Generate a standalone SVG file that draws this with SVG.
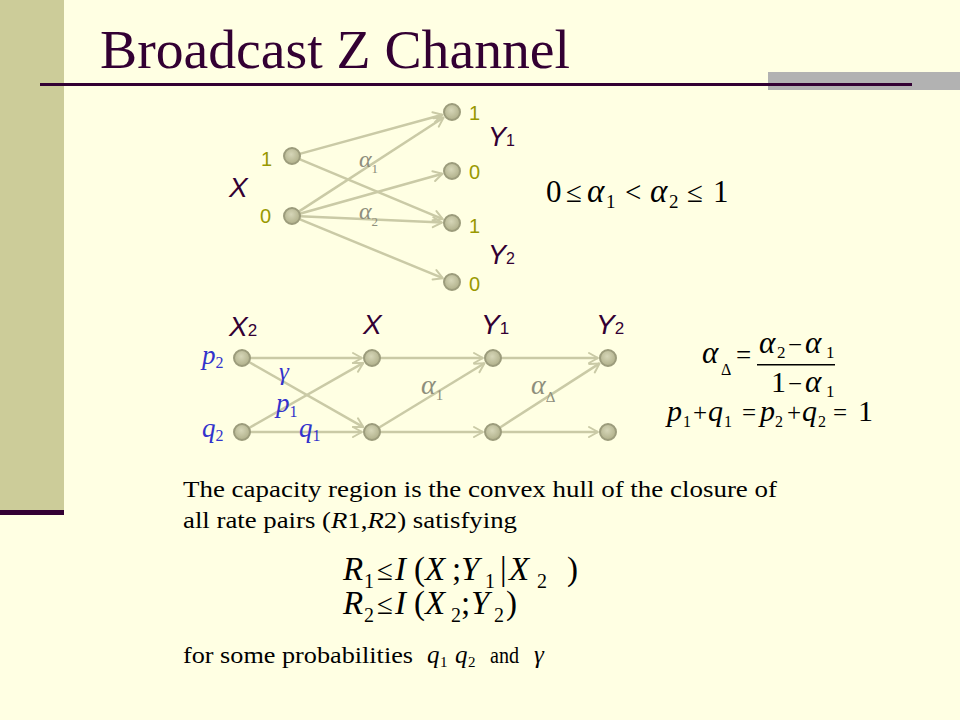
<svg xmlns="http://www.w3.org/2000/svg" width="960" height="720" viewBox="0 0 960 720">
<defs>
<radialGradient id="ng" cx="45%" cy="40%" r="60%">
<stop offset="0" stop-color="#D6D6B8"/>
<stop offset="1" stop-color="#B0B08A"/>
</radialGradient>
<marker id="ah" markerUnits="userSpaceOnUse" markerWidth="14" markerHeight="14" viewBox="0 0 14 14" refX="11" refY="7" orient="auto">
<path d="M2,2 L11,7 L2,12" fill="none" stroke="#CACAA6" stroke-width="2" stroke-linecap="round" stroke-linejoin="round"/>
</marker>
<style>
.node{fill:url(#ng);stroke:#9C9C7C;stroke-width:2}
.edge{stroke:#CACAA6;stroke-width:2.5;fill:none;marker-end:url(#ah)}
.olive{font-family:"Liberation Sans",Arial,sans-serif;font-size:20px;fill:#999900}
.var{font-family:"Liberation Sans",Arial,sans-serif;font-style:italic;fill:#330033}
.sub{font-style:normal}
.alpha{font-family:"Liberation Serif","Times New Roman",serif;font-style:italic;fill:#8E8E7C}
.blue{font-family:"Liberation Serif","Times New Roman",serif;font-style:italic;fill:#3333CC}
.m{font-family:"Liberation Serif","Times New Roman",serif;fill:#000}
.mi{font-family:"Liberation Serif","Times New Roman",serif;font-style:italic;fill:#000}
.txt{font-family:"Liberation Serif","Times New Roman",serif;font-size:24px;fill:#000}
</style>
</defs>
<rect x="0" y="0" width="960" height="720" fill="#FFFFE3"/>
<rect x="0" y="0" width="64" height="510" fill="#CCCC99"/>
<rect x="0" y="510" width="64" height="5" fill="#330033"/>
<rect x="768" y="72" width="192" height="18" fill="#B2B2B2"/>
<rect x="40" y="83" width="872" height="3" fill="#330033"/>
<text x="100" y="68" font-family="'Liberation Serif','Times New Roman',serif" font-size="55" fill="#330033" textLength="470" lengthAdjust="spacingAndGlyphs">Broadcast Z Channel</text>

<g id="connectors">
<line class="edge" x1="299.7" y1="153.9" x2="442.4" y2="114.7"/>
<line class="edge" x1="299.4" y1="159.1" x2="442.8" y2="219.1"/>
<line class="edge" x1="298.7" y1="211.6" x2="443.6" y2="117.5"/>
<line class="edge" x1="299.7" y1="213.8" x2="442.4" y2="173.7"/>
<line class="edge" x1="300" y1="216.3" x2="442" y2="222.6"/>
<line class="edge" x1="299.4" y1="219.1" x2="442.8" y2="278.2"/>

<line class="edge" x1="250" y1="358" x2="362" y2="358"/>
<line class="edge" x1="250" y1="432" x2="362" y2="432"/>
<line class="edge" x1="249" y1="362" x2="363.3" y2="427.1"/>
<line class="edge" x1="249" y1="428" x2="363.3" y2="362.9"/>
<line class="edge" x1="380" y1="358" x2="483" y2="358"/>
<line class="edge" x1="380" y1="432" x2="483" y2="432"/>
<line class="edge" x1="378.8" y1="427.8" x2="484.5" y2="363.2"/>
<line class="edge" x1="501" y1="358" x2="598" y2="358"/>
<line class="edge" x1="501" y1="432" x2="598" y2="432"/>
<line class="edge" x1="499.7" y1="427.7" x2="599.6" y2="363.4"/>
</g>

<g id="top-x1"><circle class="node" cx="292" cy="156" r="8"/><text class="olive" x="261" y="166">1</text></g>
<g id="top-x0"><circle class="node" cx="292" cy="216" r="8"/><text class="olive" x="260" y="223">0</text></g>
<g id="top-y1-1"><circle class="node" cx="452" cy="112" r="8"/><text class="olive" x="469" y="120">1</text></g>
<g id="top-y1-0"><circle class="node" cx="452" cy="171" r="8"/><text class="olive" x="469" y="179">0</text></g>
<g id="top-y2-1"><circle class="node" cx="452" cy="223" r="8"/><text class="olive" x="469" y="233">1</text></g>
<g id="top-y2-0"><circle class="node" cx="452" cy="282" r="8"/><text class="olive" x="469" y="291">0</text></g>

<g id="top-labels">
<text class="var" x="229" y="197" font-size="28">X</text>
<text class="var" x="488" y="146" font-size="27">Y<tspan class="sub" font-size="16">1</tspan></text>
<text class="var" x="488" y="264" font-size="27">Y<tspan class="sub" font-size="16">2</tspan></text>
<text class="alpha" x="359" y="167" font-size="24">α<tspan font-style="normal" font-size="13" dy="6">1</tspan></text>
<text class="alpha" x="359" y="219" font-size="24">α<tspan font-style="normal" font-size="13" dy="7">2</tspan></text>
</g>

<g id="cond-formula">
<text class="m" x="546" y="202" font-size="31">0</text>
<text class="m" x="566" y="202" font-size="29">≤</text>
<text class="mi" x="587" y="202" font-size="33">α</text>
<text class="m" x="606" y="208" font-size="19">1</text>
<text class="m" x="625" y="202" font-size="29">&lt;</text>
<text class="mi" x="650" y="202" font-size="33">α</text>
<text class="m" x="669" y="208" font-size="19">2</text>
<text class="m" x="687" y="202" font-size="29">≤</text>
<text class="m" x="713" y="202" font-size="31">1</text>
</g>

<g id="n-x2-top"><circle class="node" cx="242" cy="358" r="8"/></g>
<g id="n-x2-bot"><circle class="node" cx="242" cy="432" r="8"/></g>
<g id="n-x-top"><circle class="node" cx="372" cy="358" r="8"/></g>
<g id="n-x-bot"><circle class="node" cx="372" cy="432" r="8"/></g>
<g id="n-y1-top"><circle class="node" cx="493" cy="358" r="8"/></g>
<g id="n-y1-bot"><circle class="node" cx="493" cy="432" r="8"/></g>
<g id="n-y2-top"><circle class="node" cx="608" cy="358" r="8"/></g>
<g id="n-y2-bot"><circle class="node" cx="608" cy="432" r="8"/></g>

<g id="bottom-labels">
<text class="var" x="229" y="336" font-size="28">X<tspan class="sub" font-size="17">2</tspan></text>
<text class="var" x="363" y="334" font-size="28">X</text>
<text class="var" x="481" y="334" font-size="28">Y<tspan class="sub" font-size="17">1</tspan></text>
<text class="var" x="596" y="334" font-size="28">Y<tspan class="sub" font-size="17">2</tspan></text>
<text class="blue" x="202" y="364" font-size="27">p<tspan font-style="normal" font-size="16" dy="4">2</tspan></text>
<text class="blue" x="202" y="437" font-size="27">q<tspan font-style="normal" font-size="16" dy="4">2</tspan></text>
<text class="blue" x="279" y="380" font-size="25">γ</text>
<text class="blue" x="276" y="412" font-size="27">p<tspan font-style="normal" font-size="16" dy="5">1</tspan></text>
<text class="blue" x="299" y="437" font-size="27">q<tspan font-style="normal" font-size="16" dy="4">1</tspan></text>
<text class="alpha" x="421" y="394" font-size="28">α<tspan font-style="normal" font-size="15" dy="6">1</tspan></text>
<text class="alpha" x="531" y="394" font-size="28">α<tspan font-style="normal" font-size="15" dy="8">Δ</tspan></text>
</g>

<g id="alpha-delta-formula">
<text class="mi" x="702" y="363" font-size="31">α</text>
<text class="m" x="721" y="375" font-size="16">Δ</text>
<text class="m" x="736" y="364" font-size="27">=</text>
<text class="mi" x="759" y="353" font-size="31">α</text>
<text class="m" x="777" y="358" font-size="17">2</text>
<text class="m" x="788" y="353" font-size="25">−</text>
<text class="mi" x="805" y="353" font-size="31">α</text>
<text class="m" x="826" y="358" font-size="17">1</text>
<rect x="757" y="364" width="78" height="1.5" fill="#000"/>
<text class="m" x="771" y="392" font-size="30">1</text>
<text class="m" x="788" y="392" font-size="25">−</text>
<text class="mi" x="805" y="392" font-size="31">α</text>
<text class="m" x="826" y="397" font-size="17">1</text>
</g>

<g id="prob-formula">
<text class="mi" x="667" y="421" font-size="30">p</text>
<text class="m" x="683" y="427" font-size="16">1</text>
<text class="m" x="693" y="421" font-size="25">+</text>
<text class="mi" x="708" y="421" font-size="30">q</text>
<text class="m" x="724" y="427" font-size="16">1</text>
<text class="m" x="742" y="421" font-size="25">=</text>
<text class="mi" x="760" y="421" font-size="30">p</text>
<text class="m" x="775" y="427" font-size="16">2</text>
<text class="m" x="787" y="421" font-size="25">+</text>
<text class="mi" x="802" y="421" font-size="30">q</text>
<text class="m" x="818" y="427" font-size="16">2</text>
<text class="m" x="833" y="421" font-size="25">=</text>
<text class="m" x="858" y="421" font-size="30">1</text>
</g>

<g id="caption">
<text class="txt" x="183" y="497" textLength="594" lengthAdjust="spacingAndGlyphs">The capacity region is the convex hull of the closure of</text>
<text class="txt" x="183" y="528" textLength="334" lengthAdjust="spacingAndGlyphs">all rate pairs (<tspan font-style="italic">R</tspan>1,<tspan font-style="italic">R</tspan>2) satisfying</text>
<text class="txt" x="183" y="663" textLength="230" lengthAdjust="spacingAndGlyphs">for some probabilities</text>
<text class="mi" x="427" y="663" font-size="25" fill="#444">q</text>
<text class="m" x="440" y="667" font-size="15" fill="#444">1</text>
<text class="mi" x="455" y="663" font-size="25" fill="#444">q</text>
<text class="m" x="468" y="667" font-size="15" fill="#444">2</text>
<text class="txt" x="490" y="663" textLength="29" lengthAdjust="spacingAndGlyphs">and</text>
<text class="mi" x="534" y="663" font-size="25" fill="#444">γ</text>
</g>

<g id="rate-formulas">
<text class="mi" x="343" y="580" font-size="33">R</text>
<text class="m" x="364" y="588" font-size="20">1</text>
<text class="m" x="377" y="580" font-size="29">≤</text>
<text class="mi" x="395" y="580" font-size="33" fill="#333">I</text>
<text class="m" x="414" y="580" font-size="33">(</text>
<text class="mi" x="425" y="580" font-size="33" fill="#333">X</text>
<text class="m" x="452" y="580" font-size="33">;</text>
<text class="mi" x="461" y="580" font-size="33" fill="#333">Y</text>
<text class="m" x="485" y="588" font-size="20">1</text>
<text class="m" x="500" y="580" font-size="33">|</text>
<text class="mi" x="509" y="580" font-size="33" fill="#333">X</text>
<text class="m" x="537" y="588" font-size="20">2</text>
<text class="m" x="567" y="580" font-size="33">)</text>

<text class="mi" x="343" y="614" font-size="33">R</text>
<text class="m" x="364" y="622" font-size="20">2</text>
<text class="m" x="377" y="614" font-size="29">≤</text>
<text class="mi" x="395" y="614" font-size="33" fill="#333">I</text>
<text class="m" x="414" y="614" font-size="33">(</text>
<text class="mi" x="425" y="614" font-size="33" fill="#333">X</text>
<text class="m" x="451" y="622" font-size="20">2</text>
<text class="m" x="461" y="614" font-size="33">;</text>
<text class="mi" x="471" y="614" font-size="33" fill="#333">Y</text>
<text class="m" x="494" y="622" font-size="20">2</text>
<text class="m" x="506" y="614" font-size="33">)</text>
</g>
</svg>
